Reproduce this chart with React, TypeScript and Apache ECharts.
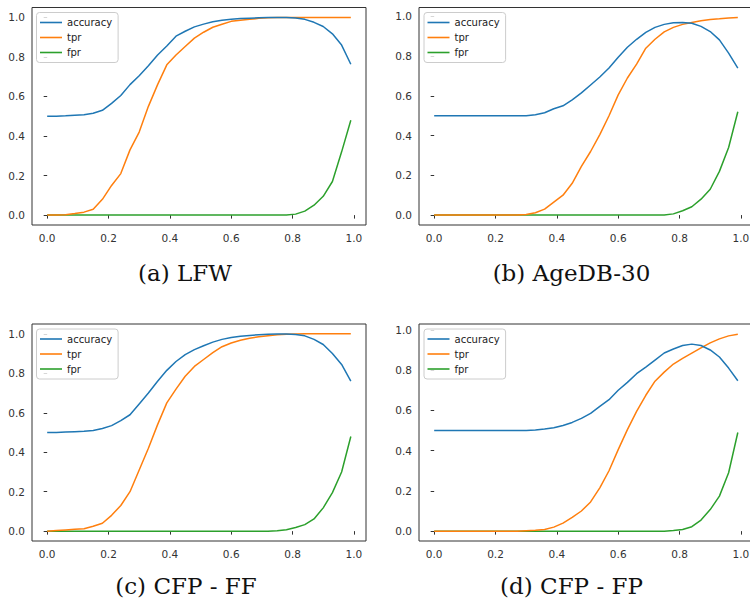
import React, { useEffect, useRef } from "react";
import * as echarts from "echarts";

const XS = [0, 0.03, 0.06, 0.09, 0.12, 0.15, 0.18, 0.21, 0.24, 0.27, 0.3, 0.33, 0.36, 0.39, 0.42, 0.45, 0.48, 0.51, 0.54, 0.57, 0.6, 0.63, 0.66, 0.69, 0.72, 0.75, 0.78, 0.81, 0.84, 0.87, 0.9, 0.93, 0.96, 0.99];

const ACC_A = [0.5, 0.5, 0.502, 0.505, 0.508, 0.515, 0.53, 0.565, 0.605, 0.66, 0.705, 0.755, 0.81, 0.855, 0.905, 0.93, 0.952, 0.966, 0.978, 0.985, 0.99, 0.994, 0.996, 0.998, 0.999, 0.999, 0.999, 0.997, 0.99, 0.975, 0.954, 0.917, 0.86, 0.763];
const TPR_A = [0, 0, 0.002, 0.008, 0.015, 0.03, 0.08, 0.15, 0.21, 0.33, 0.42, 0.55, 0.66, 0.76, 0.81, 0.853, 0.895, 0.925, 0.95, 0.965, 0.98, 0.985, 0.99, 0.995, 0.998, 0.999, 1, 1, 1, 1, 1, 1, 1, 1];
const FPR_A = [0, 0, 0, 0, 0, 0, 0, 0, 0, 0, 0, 0, 0, 0, 0, 0, 0, 0, 0, 0, 0, 0, 0, 0, 0, 0, 0.001, 0.005, 0.02, 0.05, 0.095, 0.17, 0.32, 0.48];

const ACC_B = [0.5, 0.5, 0.5, 0.5, 0.5, 0.5, 0.5, 0.5, 0.5, 0.5, 0.5, 0.505, 0.515, 0.535, 0.55, 0.58, 0.615, 0.655, 0.695, 0.74, 0.795, 0.845, 0.885, 0.92, 0.945, 0.96, 0.968, 0.97, 0.966, 0.95, 0.924, 0.882, 0.815, 0.74];
const TPR_B = [0, 0, 0, 0, 0, 0, 0, 0, 0, 0, 0.003, 0.012, 0.03, 0.065, 0.1, 0.16, 0.245, 0.32, 0.405, 0.5, 0.605, 0.69, 0.76, 0.84, 0.885, 0.922, 0.945, 0.96, 0.97, 0.978, 0.985, 0.988, 0.992, 0.995];
const FPR_B = [0, 0, 0, 0, 0, 0, 0, 0, 0, 0, 0, 0, 0, 0, 0, 0, 0, 0, 0, 0, 0, 0, 0, 0, 0, 0, 0.006, 0.022, 0.042, 0.08, 0.13, 0.22, 0.34, 0.52];

const ACC_C = [0.5, 0.5, 0.502, 0.504, 0.506, 0.51, 0.52, 0.535, 0.56, 0.59, 0.645, 0.7, 0.76, 0.815, 0.86, 0.895, 0.92, 0.94, 0.958, 0.972, 0.982, 0.988, 0.992, 0.996, 0.998, 0.999, 0.999, 0.997, 0.99, 0.972, 0.946, 0.9, 0.845, 0.76];
const TPR_C = [0, 0.003, 0.006, 0.009, 0.012, 0.025, 0.04, 0.08, 0.13, 0.2, 0.31, 0.42, 0.54, 0.65, 0.72, 0.785, 0.835, 0.87, 0.905, 0.935, 0.954, 0.968, 0.978, 0.985, 0.99, 0.995, 0.998, 0.999, 1, 1, 1, 1, 1, 1];
const FPR_C = [0, 0, 0, 0, 0, 0, 0, 0, 0, 0, 0, 0, 0, 0, 0, 0, 0, 0, 0, 0, 0, 0, 0, 0, 0, 0.002, 0.007, 0.018, 0.033, 0.062, 0.118, 0.195, 0.3, 0.48];

const ACC_D = [0.5, 0.5, 0.5, 0.5, 0.5, 0.5, 0.5, 0.5, 0.5, 0.5, 0.5, 0.503, 0.507, 0.514, 0.525, 0.54, 0.56, 0.585, 0.62, 0.653, 0.7, 0.739, 0.782, 0.815, 0.85, 0.885, 0.905, 0.922, 0.929, 0.922, 0.9, 0.865, 0.81, 0.747];
const TPR_D = [0, 0, 0, 0, 0, 0, 0, 0, 0, 0, 0.002, 0.004, 0.008, 0.02, 0.04, 0.068, 0.1, 0.145, 0.215, 0.3, 0.405, 0.504, 0.595, 0.675, 0.745, 0.79, 0.83, 0.858, 0.884, 0.91, 0.935, 0.955, 0.97, 0.978];
const FPR_D = [0, 0, 0, 0, 0, 0, 0, 0, 0, 0, 0, 0, 0, 0, 0, 0, 0, 0, 0, 0, 0, 0, 0, 0, 0, 0, 0.003, 0.008, 0.022, 0.055, 0.107, 0.174, 0.29, 0.49];

const SERIES_NAMES = ["accuracy", "tpr", "fpr"];
const COLORS = ["#1f77b4", "#ff7f0e", "#2ca02c"];
const TICKS = [0, 0.2, 0.4, 0.6, 0.8, 1.0];
const CAPTIONS = ["(a) LFW", "(b) AgeDB-30", "(c) CFP - FF", "(d) CFP - FP"];

const PANELS = [
  { data: [ACC_A, TPR_A, FPR_A], yMin: -0.05, yMax: 1.05 },
  { data: [ACC_B, TPR_B, FPR_B], yMin: -0.05, yMax: 1.045 },
  { data: [ACC_C, TPR_C, FPR_C], yMin: -0.05, yMax: 1.05 },
  { data: [ACC_D, TPR_D, FPR_D], yMin: -0.049, yMax: 1.029 },
];

const GRID_POS = [
  { left: 32, top: 7.5, width: 334, height: 217.5 },
  { left: 419, top: 7.5, width: 334, height: 217.5 },
  { left: 32, top: 324, width: 334, height: 217 },
  { left: 419, top: 324, width: 334, height: 217 },
];
const LEGEND_POS = [
  { left: 36.5, top: 12.5 },
  { left: 424, top: 12.5 },
  { left: 36.5, top: 329 },
  { left: 424, top: 329 },
];
const CAPTION_POS = [
  { x: 185, y: 273 },
  { x: 571.5, y: 273 },
  { x: 186, y: 586 },
  { x: 571.5, y: 586 },
];

const AXIS_COLOR = "#333";
const FONT = "DejaVu Sans";

export default function App() {
  const ref = useRef<HTMLDivElement>(null);
  useEffect(() => {
    if (!ref.current) return;
    const chart = echarts.init(ref.current, null, { renderer: "svg" });
    const grids = GRID_POS.map((g) => ({
      ...g,
      show: true,
      borderColor: AXIS_COLOR,
      borderWidth: 1,
      backgroundColor: "transparent",
      containLabel: false,
      outerBoundsMode: "none",
    }));
    const xAxes = PANELS.map((_, i) => ({
      type: "value",
      gridIndex: i,
      min: -0.0495,
      max: 1.0395,
      axisLine: { show: false },
      splitLine: { show: false },
      axisTick: { show: true, length: 3.5, lineStyle: { color: AXIS_COLOR, width: 1 }, customValues: TICKS },
      axisLabel: {
        customValues: TICKS,
        formatter: (v: number) => v.toFixed(1),
        color: AXIS_COLOR,
        fontSize: 10.5,
        fontFamily: FONT,
        margin: 7,
      },
    }));
    const yAxes = PANELS.map((p, i) => ({
      type: "value",
      gridIndex: i,
      min: p.yMin,
      max: p.yMax,
      axisLine: { show: false },
      splitLine: { show: false },
      axisTick: { show: true, length: 3.5, lineStyle: { color: AXIS_COLOR, width: 1 }, customValues: TICKS },
      axisLabel: {
        customValues: TICKS,
        formatter: (v: number) => v.toFixed(1),
        color: AXIS_COLOR,
        fontSize: 10.5,
        fontFamily: FONT,
        margin: 7,
      },
    }));
    const series: any[] = [];
    PANELS.forEach((p, i) => {
      p.data.forEach((vals, k) => {
        series.push({
          type: "line",
          name: SERIES_NAMES[k],
          xAxisIndex: i,
          yAxisIndex: i,
          data: XS.map((x, j) => [x, vals[j]]),
          showSymbol: false,
          symbol: "none",
          lineStyle: { color: COLORS[k], width: 1.5 },
          itemStyle: { color: COLORS[k] },
          silent: true,
          z: 3 - k,
        });
      });
    });
    const legends = LEGEND_POS.map((pos) => ({
      ...pos,
      orient: "vertical",
      data: SERIES_NAMES,
      icon: "rect",
      itemWidth: 22,
      itemHeight: 1.6,
      itemGap: 3,
      selectedMode: false,
      backgroundColor: "rgba(255,255,255,0.8)",
      borderColor: "#cccccc",
      borderWidth: 1,
      borderRadius: 3,
      padding: [4, 6, 4, 3.5],
      textStyle: { color: "#222", fontSize: 10, fontFamily: FONT, lineHeight: 12 },
    }));
    const graphics = CAPTIONS.map((t, i) => ({
      type: "text",
      x: CAPTION_POS[i].x,
      y: CAPTION_POS[i].y,
      style: {
        text: t,
        fill: "#111",
        font: '23px "DejaVu Serif"',
        align: "center",
        verticalAlign: "middle",
      },
    }));
    chart.setOption({
      animation: false,
      backgroundColor: "#ffffff",
      grid: grids,
      xAxis: xAxes,
      yAxis: yAxes,
      legend: legends,
      series,
      graphic: graphics,
    });
    return () => chart.dispose();
  }, []);
  return (
    <div
      ref={ref}
      style={{ position: "fixed", left: 0, top: 0, width: 750, height: 603, background: "#fff" }}
    />
  );
}
